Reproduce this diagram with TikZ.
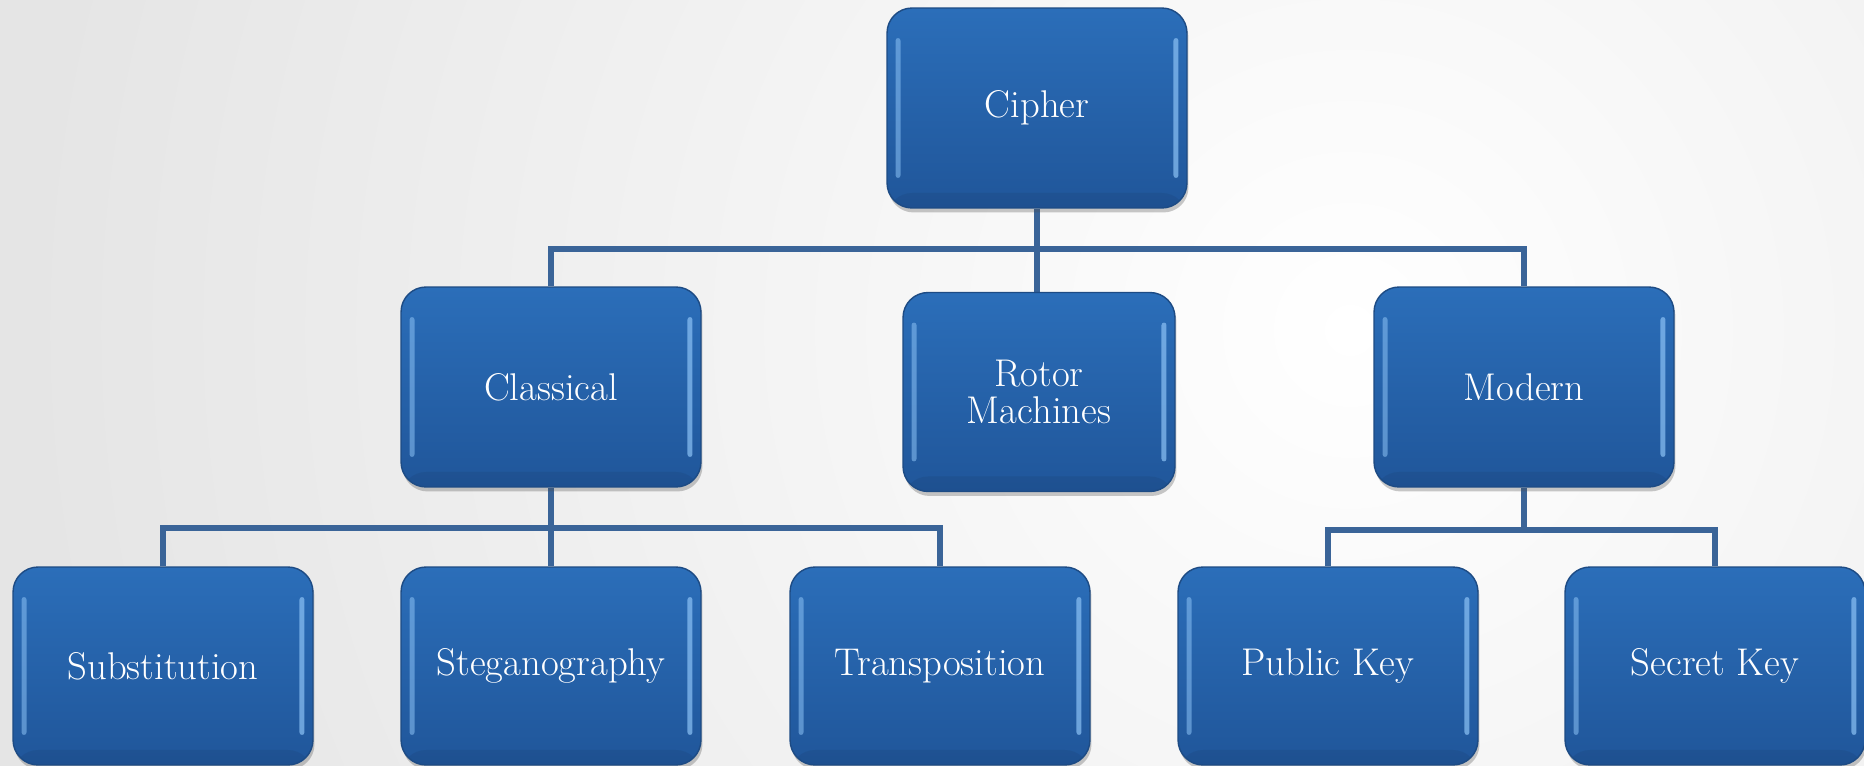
\documentclass[tikz,border=0pt]{standalone}
\usetikzlibrary{shadows,calc}

\definecolor{boxtop}{HTML}{2B6EB9}
\definecolor{boxbot}{HTML}{20569A}
\definecolor{boxedge}{HTML}{1D4B84}
\definecolor{shine}{HTML}{8CC2F5}
\definecolor{linkcol}{HTML}{3A6498}

\pgfdeclarelayer{back}
\pgfdeclarelayer{links}
\pgfsetlayers{back,links,main}

\tikzset{
  unitbox/.style={
    rounded corners=0.5cm, draw=boxedge, line width=0.8pt,
    top color=boxtop, bottom color=boxbot,
    minimum width=6cm, minimum height=4cm,
    text=white, align=center,
    font=\fontsize{22}{24}\selectfont,
    drop shadow={shadow xshift=0.03cm, shadow yshift=-0.09cm, opacity=0.3, fill=black!70},
    path picture={
      \fill[shine, opacity=0.55, rounded corners=1.5pt]
        ($(path picture bounding box.north west)+(0.17cm,-0.6cm)$) rectangle
        ($(path picture bounding box.south west)+(0.27cm,0.6cm)$);
      \fill[shine, opacity=0.7, rounded corners=1.5pt]
        ($(path picture bounding box.north east)+(-0.27cm,-0.6cm)$) rectangle
        ($(path picture bounding box.south east)+(-0.17cm,0.6cm)$);
      \fill[black, opacity=0.06]
        ($(path picture bounding box.south west)+(0,0.3cm)$) rectangle
        (path picture bounding box.south east);
    }
  },
  link/.style={draw=linkcol, line width=0.12cm}
}

\begin{document}
\begin{tikzpicture}[x=0.02cm, y=-0.02cm]
  \useasboundingbox (0,0) rectangle (1864,766);

  % soft grey backdrop, brighter towards the right
  \begin{pgfonlayer}{back}
    \begin{scope}
      \clip (0,0) rectangle (1864,766);
      \fill[black!10] (0,0) rectangle (1864,766);
      \shade[inner color=white, outer color=black!10] (1350,330) circle (1300);
    \end{scope}
  \end{pgfonlayer}

  % boxes
  \node[unitbox] (cipher)    at (1037,108) {Cipher};
  \node[unitbox] (classical) at (551,387)  {Classical};
  \node[unitbox, minimum width=5.44cm, minimum height=3.98cm] (rotor) at (1039,392) {Rotor\\[-3pt]Machines};
  \node[unitbox] (modern)    at (1524,387) {Modern};

  \node[unitbox, minimum height=3.96cm] (subst) at (163,666)  {Substitution};
  \node[unitbox, minimum height=3.96cm] (stega) at (551,666)  {Steganography};
  \node[unitbox, minimum height=3.96cm] (trans) at (940,666)  {Transposition};
  \node[unitbox, minimum height=3.96cm] (pubk)  at (1328,666) {Public Key};
  \node[unitbox, minimum height=3.96cm] (seck)  at (1715,666) {Secret Key};

  % junction points of the tree, straight below each parent
  \path (cipher.south)    ++(0,40) coordinate (j0);
  \path (classical.south) ++(0,40) coordinate (j1);
  \path (modern.south)    ++(0,42) coordinate (j2);

  % tree connectors, kept beneath the boxes
  \begin{pgfonlayer}{links}
    \draw[link] (cipher.south) -- (j0);
    \draw[link] (classical.north) |- (j0) -| (modern.north);
    \draw[link] (j0) -- (j0 |- rotor.north);

    \draw[link] (classical.south) -- (j1);
    \draw[link] (subst.north) |- (j1) -| (trans.north);
    \draw[link] (j1) -- (j1 |- stega.north);

    \draw[link] (modern.south) -- (j2);
    \draw[link] (pubk.north) |- (j2) -| (seck.north);
  \end{pgfonlayer}
\end{tikzpicture}
\end{document}
